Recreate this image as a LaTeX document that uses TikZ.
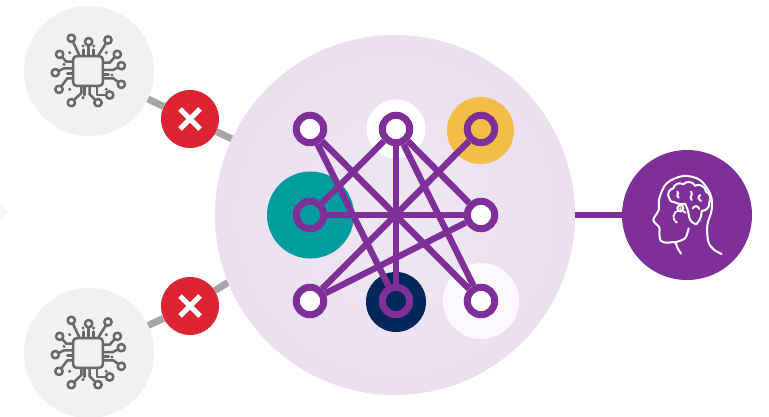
\documentclass[tikz,border=0pt]{standalone}
\usetikzlibrary{backgrounds}
\definecolor{purp}{HTML}{7F3098}
\definecolor{coreout}{HTML}{EBDFF0}
\definecolor{corein}{HTML}{EFE7F4}
\definecolor{teal1}{HTML}{009C9E}
\definecolor{yell}{HTML}{F2BE48}
\definecolor{navy1}{HTML}{00265A}
\definecolor{pale}{HTML}{FBF9FD}
\definecolor{redx}{HTML}{DC2433}
\definecolor{greyl}{HTML}{A6A6A6}
\definecolor{cpubg}{HTML}{F1F1F1}
\definecolor{chipc}{HTML}{686868}
\pgfdeclarelayer{discs}
\pgfdeclarelayer{halo}
\pgfdeclarelayer{edges}
\pgfsetlayers{background,discs,halo,edges,main}
\tikzset{
  disc/.style={circle,inner sep=0pt,minimum size=#1},
  ring/.style={circle,inner sep=0pt,minimum size=27.5pt,draw=purp,line width=7pt},
  link/.style={draw=purp,line width=6.3pt},
  blocked/.style={draw=greyl,line width=7pt},
  trace/.style={draw=chipc,line width=2.5pt,line cap=round,line join=round},
  pin/.style={trace,fill=cpubg},
  cpuicon/.pic={
    \begin{scope}[x=0.3333pt,y=-0.3333pt]
      \draw[trace] (-25,-45) -- (-50,-98);
      \draw[trace] (2,-45) -- (2,-88);
      \draw[trace] (30,-45) -- (60,-93);
      \draw[trace] (-13,-45) -- (-13,-64);
      \draw[trace] (17,-45) -- (17,-64);
      \draw[trace] (-20,45) -- (-20,66) -- (-50,95);
      \draw[trace] (-10,45) -- (-10,72);
      \draw[trace] (5,45) -- (5,70) -- (30,95);
      \draw[trace] (27,45) -- (27,72) -- (65,72);
      \draw[trace] (-45,-28) -- (-65,-28) -- (-85,-50);
      \draw[trace] (-45,-8) -- (-72,-8) -- (-98,5);
      \draw[trace] (-45,22) -- (-62,22) -- (-87,55);
      \draw[trace] (-45,8) -- (-62,8);
      \draw[trace] (45,-25) -- (65,-25) -- (88,-50);
      \draw[trace] (45,-3) -- (75,-3) -- (100,-16);
      \draw[trace] (45,22) -- (76,22) -- (100,40);
      \draw[trace] (45,10) -- (62,10);
      \foreach \a/\b in {-50/-98,2/-88,60/-93,-50/95,30/95,65/72,-85/-50,-98/5,-87/55,88/-50,100/-16,100/40}
        \draw[pin] (\a,\b) circle (11);
      \draw[trace,fill=cpubg,rounded corners=4pt] (-45,-45) rectangle (45,45);
      \foreach \a/\b in {-55/-55,55/-55,-55/55,55/55,-15/-75,17/-75,-72/-20,72/12,-15/80}
        \fill[chipc] (\a,\b) circle (5);
    \end{scope}
  },
  blockmark/.pic={
    \draw[white,line width=5pt] (-10,-10) -- (10,10) (-10,10) -- (10,-10);
  }
}
\begin{document}
\begin{tikzpicture}[x=1pt,y=-1pt]
\useasboundingbox (0,0) rectangle (769,417);
\begin{pgfonlayer}{background}
\fill[white] (0,0) rectangle (769,417);
\fill[cpubg!70!white] (0,203) -- (8,212) -- (0,222) -- cycle;
\end{pgfonlayer}

\begin{pgfonlayer}{discs}
\node[disc=360pt,inner color=corein,outer color=coreout] (core) at (395,215) {};
\node[disc=130pt,fill=cpubg] (cpu1) at (89,71) {};
\node[disc=130pt,fill=cpubg] (cpu2) at (89,353) {};
\node[disc=130pt,fill=purp] (mind) at (687,215) {};
\node[disc=58pt,fill=redx] (x1) at (190,119) {};
\node[disc=58pt,fill=redx] (x2) at (190,306) {};
\end{pgfonlayer}

\pic at (88,71) {cpuicon};
\pic at (88,353) {cpuicon};
\pic at (190,119) {blockmark};
\pic at (190,306) {blockmark};

\node[ring,fill=white] (tl) at (310,129) {};
\node[ring,fill=white] (tm) at (396,129) {};
\node[ring,fill=yell] (tr) at (481,129) {};
\node[ring,fill=teal1] (ml) at (310,215) {};
\node[ring,fill=white] (mr) at (481,215) {};
\node[ring,fill=white] (bl) at (310,301) {};
\node[ring,fill=navy1] (bm) at (396,301) {};
\node[ring,fill=white] (br) at (481,301) {};

\begin{pgfonlayer}{background}
  \draw[blocked] (cpu1) -- (x1) -- (core.155);
  \draw[blocked] (cpu2) -- (x2) -- (core.202);
  \draw[purp,line width=6pt] (core) -- (mind);
\end{pgfonlayer}
\begin{pgfonlayer}{halo}
  \fill[white] (396,129) circle (29.5);
  \fill[yell] (480.5,130.5) circle (33.5);
  \fill[teal1] (310.5,215) circle (43.5);
  \fill[navy1] (396,302) circle (30);
  \fill[pale] (481,301) circle (38);
\end{pgfonlayer}
\begin{pgfonlayer}{edges}
  \draw[link] (tl) -- (br);
  \draw[link] (tl) -- (bm);
  \draw[link] (tm) -- (ml);
  \draw[link] (tm) -- (bm);
  \draw[link] (tm) -- (mr);
  \draw[link] (tm) -- (br);
  \draw[link] (tr) -- (bl);
  \draw[link] (ml) -- (mr);
  \draw[link] (bl) -- (mr);
\end{pgfonlayer}

\begin{scope}[shift={(620,145)},x=0.3333pt,y=-0.3333pt,line width=2pt,line cap=round,line join=round]
  \draw[white] plot[smooth,tension=0.55] coordinates {(183,326) (172,308) (165,292) (140,293) (122,287) (118,262) (118,247) (100,225) (116,195) (118,160) (140,115) (190,93) (240,105) (272,150) (275,195) (262,240) (265,290) (282,314) (305,327)};
  \draw[white] plot[smooth,tension=0.55] coordinates {(165,292) (195,280) (206,250)};
  \draw[white] (147,158) to[bend left=60] (160,130) to[bend left=60] (190,118) to[bend left=60] (225,122) to[bend left=60] (258,140) to[bend left=50] (268,172) to[bend left=50] (245,198) to[bend left=20] (229,238) to[bend left=30] (207,215) to[bend right=10] (195,176) to[bend left=20] (165,172) to[bend left=50] cycle;
  \draw[white] (172,140) .. controls (180,148) and (165,150) .. (176,158);
  \draw[white] (213,140) .. controls (222,150) and (205,155) .. (215,165);
  \draw[white] (240,150) .. controls (232,158) and (236,165) .. (243,168);
  \draw[white] (218,190) .. controls (224,180) and (234,182) .. (238,192);
  \draw[white] (181,190) circle (9);
  \fill[white] (181,190) circle (3.5);
  \draw[white,dash pattern=on 2pt off 1.5pt] (196,203) arc (-40:-250:20);
\end{scope}
\end{tikzpicture}
\end{document}
